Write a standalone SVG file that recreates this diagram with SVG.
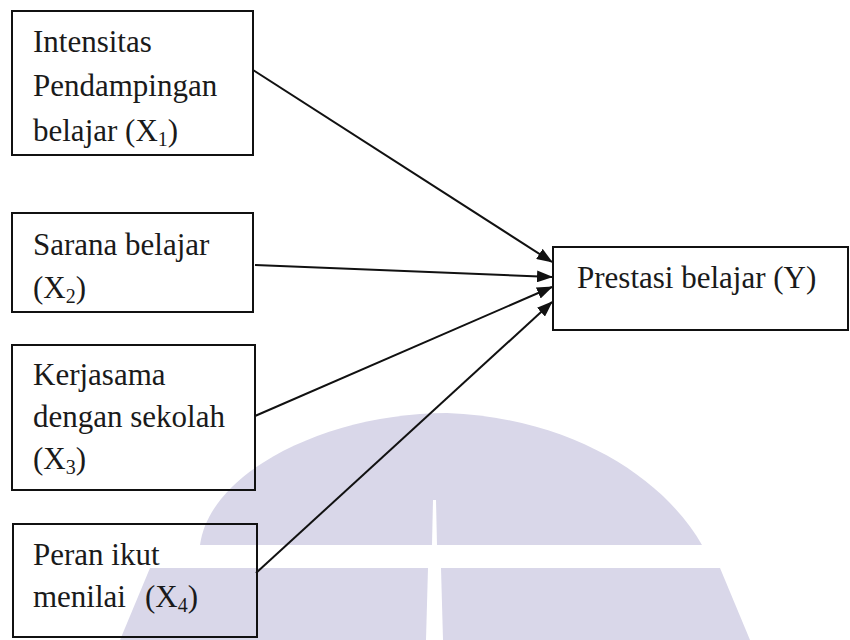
<svg xmlns="http://www.w3.org/2000/svg" width="850" height="640" viewBox="0 0 850 640">
<defs>
<style>
.box{fill:none;stroke:#111;stroke-width:2}
.t{font-family:"Liberation Serif","Times New Roman",serif;font-size:31px;fill:#1a1a1a}
.s{font-size:20px}
.wm{fill:#d9d7e9}
.cn{stroke:#111;stroke-width:2;fill:none;marker-end:url(#ah)}
</style>
<marker id="ah" markerWidth="16" markerHeight="12" refX="15" refY="6" orient="auto" markerUnits="userSpaceOnUse">
<path d="M0,0 L16,6 L0,12 Z" fill="#111"/>
</marker>
</defs>
<rect width="850" height="640" fill="#fff"/>
<g id="watermark">
<path class="wm" d="M200,545 C210,470 330,413 447,413 C575,418 665,480 702,545 Z"/>
<path class="wm" d="M150,568 L720,568 L750,640 L120,640 Z"/>
<path d="M433,500 L436,500 L437,545 L432,545 Z" fill="#fff"/>
<path d="M428,568 L441,568 L443,640 L426,640 Z" fill="#fff"/>
</g>
<g id="connectors">
<line class="cn" x1="253" y1="70" x2="552" y2="262"/>
<line class="cn" x1="255" y1="265" x2="552" y2="277"/>
<line class="cn" x1="255" y1="416" x2="552" y2="287"/>
<line class="cn" x1="256" y1="573" x2="552" y2="302"/>
</g>
<g id="x1">
<rect class="box" x="12" y="11" width="241" height="144"/>
<text class="t" x="33" y="52">Intensitas</text>
<text class="t" x="33" y="96">Pendampingan</text>
<text class="t" x="33" y="141">belajar (X<tspan class="s" dy="5">1</tspan><tspan dy="-5">)</tspan></text>
</g>
<g id="x2">
<rect class="box" x="12" y="213" width="241" height="99"/>
<text class="t" x="33" y="255">Sarana belajar</text>
<text class="t" x="33" y="298">(X<tspan class="s" dy="5">2</tspan><tspan dy="-5">)</tspan></text>
</g>
<g id="x3">
<rect class="box" x="12" y="345" width="243" height="145"/>
<text class="t" x="33" y="385">Kerjasama</text>
<text class="t" x="33" y="427">dengan sekolah</text>
<text class="t" x="33" y="469">(X<tspan class="s" dy="5">3</tspan><tspan dy="-5">)</tspan></text>
</g>
<g id="x4">
<rect class="box" x="13" y="524" width="244" height="113"/>
<text class="t" x="33" y="565">Peran ikut</text>
<text class="t" x="33" y="607">menilai</text>
<text class="t" x="145" y="607">(X<tspan class="s" dy="5">4</tspan><tspan dy="-5">)</tspan></text>
</g>
<g id="y">
<rect class="box" x="553" y="247" width="295" height="83"/>
<text class="t" x="577" y="288">Prestasi belajar (Y)</text>
</g>
</svg>
